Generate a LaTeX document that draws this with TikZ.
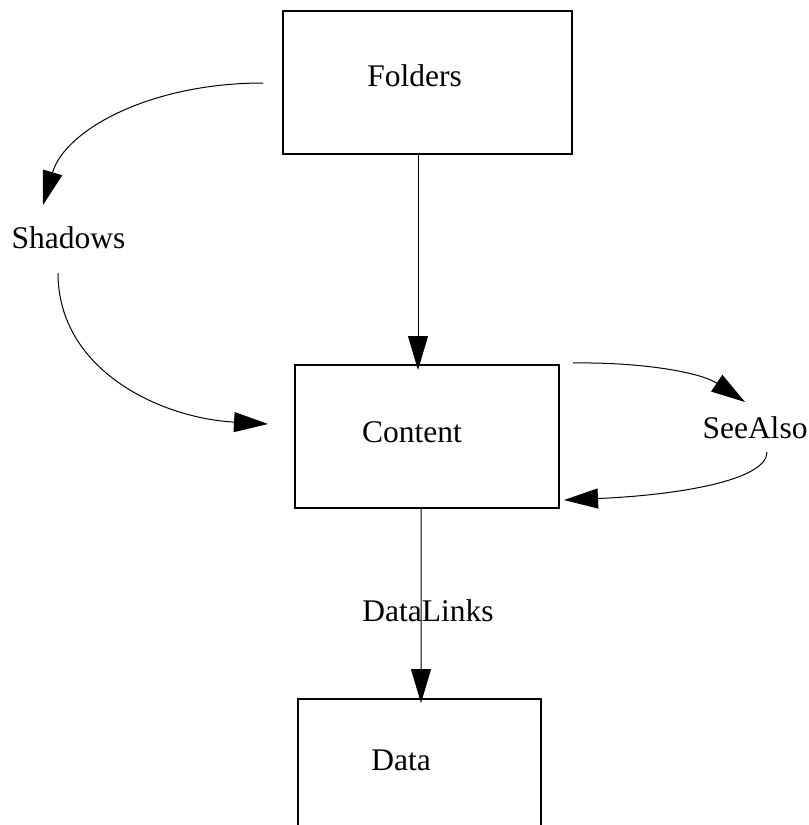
\documentclass[tikz,border=0pt]{standalone}
\usepackage{fontspec}
\setmainfont{Liberation Serif}
\usetikzlibrary{arrows.meta}

\begin{document}
\begin{tikzpicture}[x=1bp,y=-1bp,
  box/.style={draw, line width=2bp, rectangle, inner sep=0pt, outer sep=0pt},
  lbl/.style={inner sep=0pt, outer sep=0pt, anchor=base,
              font=\fontsize{31.5bp}{36bp}\selectfont},
  link/.style={line width=1bp, -{Triangle[length=34bp, width=20bp]}}]

\useasboundingbox (0,0) rectangle (809,825);
\clip (0,0) rectangle (809,825);

% boxes
\node[box, minimum width=289bp, minimum height=143bp] (folders) at (427.5,82.5) {};
\node[box, minimum width=264bp, minimum height=143bp] (content) at (427,436.5) {};
\node[box, minimum width=243bp, minimum height=143bp] (data)    at (419.5,770.5) {};

% box captions
\node[lbl] (folderstext) at (414.5,86)  {Folders};
\node[lbl] (contenttext) at (412,442)   {Content};
\node[lbl] (datatext)    at (401,770)   {Data};

% free-standing labels
\node[lbl] (shadows)   at (68.5,248) {Shadows};
\node[lbl] (seealso)   at (755,438)  {SeeAlso};
\node[lbl] (datalinks) at (428,621)  {DataLinks};

% straight links
\draw[link] ([shift={(-9.5,0)}]folders.south) -- ([shift={(-9,5)}]content.north);
\draw[link] ([shift={(-6,0)}]content.south) -- ([shift={(1.5,4)}]data.north);

% Folders -> Shadows -> Content
\draw[link] ([shift={(-20,0.5)}]folders.west)
  .. controls (150,83) and (65,130) .. ([shift={(-25.5,-43)}]shadows.base);
\draw[link] ([shift={(-10.5,25)}]shadows.base)
  .. controls (58,370) and (160,418) .. ([shift={(-27,-12.5)}]content.west);

% Content -> SeeAlso -> Content
\draw[link] ([shift={(14,-2)}]content.north east)
  .. controls (640,362) and (700,372) .. ([shift={(-10,-36)}]seealso.base);
\draw[link] ([shift={(12,14)}]seealso.base)
  .. controls (767,480) and (680,495) .. ([shift={(5,-8)}]content.south east);

\end{tikzpicture}
\end{document}
